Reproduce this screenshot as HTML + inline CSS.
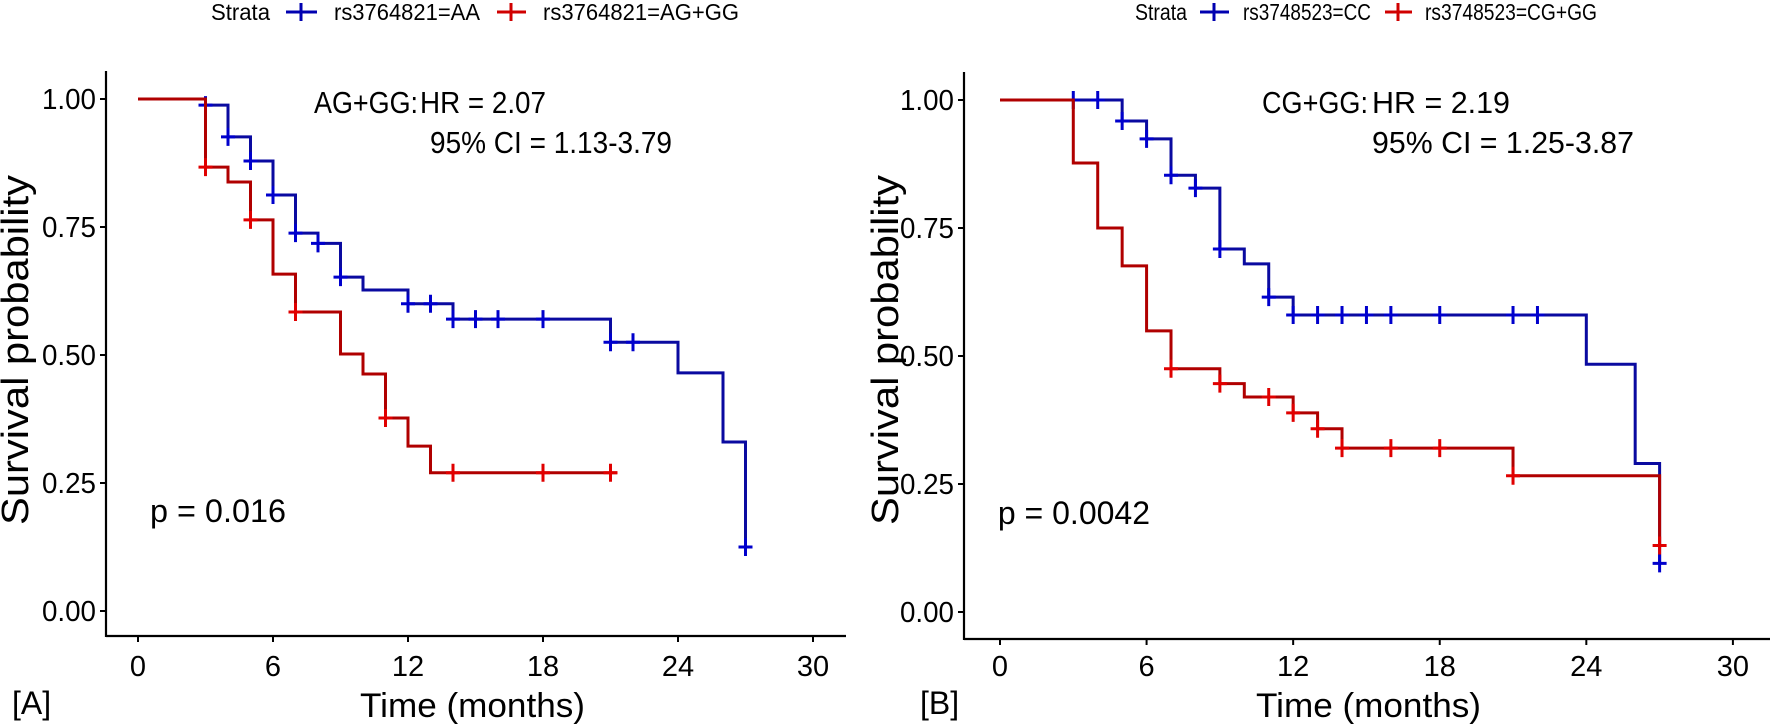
<!DOCTYPE html>
<html><head><meta charset="utf-8"><style>
html,body{margin:0;padding:0;background:#fff;}
svg{display:block;font-family:"Liberation Sans",Arial,sans-serif;}
</style></head><body>
<svg id="s" width="1770" height="726" viewBox="0 0 1770 726" xmlns="http://www.w3.org/2000/svg">
<rect width="1770" height="726" fill="#fff"/>
<g font-size="23" fill="#000">
<text x="211" y="20" textLength="59" lengthAdjust="spacingAndGlyphs">Strata</text>
<line x1="286" y1="12" x2="317" y2="12" stroke="#0000b0" stroke-width="3"/><line x1="301" y1="3" x2="301" y2="21" stroke="#0000b0" stroke-width="3"/>
<text x="334" y="20" textLength="146" lengthAdjust="spacingAndGlyphs">rs3764821=AA</text>
<line x1="497" y1="12" x2="526" y2="12" stroke="#d00000" stroke-width="3"/><line x1="511" y1="3" x2="511" y2="21" stroke="#d00000" stroke-width="3"/>
<text x="543" y="20" textLength="196" lengthAdjust="spacingAndGlyphs">rs3764821=AG+GG</text>

<text x="1135" y="20" textLength="52" lengthAdjust="spacingAndGlyphs">Strata</text>
<line x1="1200" y1="12" x2="1229" y2="12" stroke="#0000b0" stroke-width="3"/><line x1="1214" y1="3" x2="1214" y2="21" stroke="#0000b0" stroke-width="3"/>
<text x="1243" y="20" textLength="128" lengthAdjust="spacingAndGlyphs">rs3748523=CC</text>
<line x1="1385" y1="12" x2="1412" y2="12" stroke="#d00000" stroke-width="3"/><line x1="1398" y1="3" x2="1398" y2="21" stroke="#d00000" stroke-width="3"/>
<text x="1425" y="20" textLength="172" lengthAdjust="spacingAndGlyphs">rs3748523=CG+GG</text>
</g>
<g id="g"></g>
<g font-size="31" fill="#000">
<text x="314" y="113" textLength="104" lengthAdjust="spacingAndGlyphs">AG+GG:</text>
<text x="420" y="113" textLength="126" lengthAdjust="spacingAndGlyphs">HR = 2.07</text>
<text x="430" y="153" textLength="242" lengthAdjust="spacingAndGlyphs">95% CI = 1.13-3.79</text>
<text x="1262" y="113" textLength="106" lengthAdjust="spacingAndGlyphs">CG+GG:</text>
<text x="1372" y="113" textLength="138" lengthAdjust="spacingAndGlyphs">HR = 2.19</text>
<text x="1372" y="153" textLength="262" lengthAdjust="spacingAndGlyphs">95% CI = 1.25-3.87</text>
</g>
<g font-size="32" fill="#000">
<text x="150" y="522" textLength="136" lengthAdjust="spacingAndGlyphs">p = 0.016</text>
<text x="1150" y="524" text-anchor="end">p = 0.0042</text>
</g>
<g font-size="34" fill="#000">
<text x="360" y="717" textLength="225" lengthAdjust="spacingAndGlyphs">Time (months)</text>
<text x="1256" y="717" textLength="225" lengthAdjust="spacingAndGlyphs">Time (months)</text>
<text x="12" y="714" font-size="32">[A]</text>
<text x="920" y="714" font-size="32">[B]</text>
<text transform="translate(28,350) rotate(-90)" text-anchor="middle" font-size="38" textLength="350" lengthAdjust="spacingAndGlyphs">Survival probability</text>
<text transform="translate(898,350) rotate(-90)" text-anchor="middle" font-size="38" textLength="350" lengthAdjust="spacingAndGlyphs">Survival probability</text>
</g>
</svg>
<script>
(function(){
var g=document.getElementById('g'),NS='http://www.w3.org/2000/svg';
function el(t,a,txt){var e=document.createElementNS(NS,t);for(var k in a)e.setAttribute(k,a[k]);if(txt!=null)e.textContent=txt;g.appendChild(e);return e;}
function panel(P){
 var X=function(m){return P.x0+P.k*m},Y=function(s){return P.y0-512*s};
 el('line',{x1:P.ax,y1:P.top,x2:P.ax,y2:P.base+1,stroke:'#000','stroke-width':2.2});
 el('line',{x1:P.ax,y1:P.base,x2:P.xend,y2:P.base,stroke:'#000','stroke-width':2.2});
 [0,0.25,0.5,0.75,1].forEach(function(s){
  el('line',{x1:P.ax-6,y1:Y(s),x2:P.ax,y2:Y(s),stroke:'#000','stroke-width':2});
  el('text',{x:P.ax-10,y:Y(s)+10,'text-anchor':'end','font-size':29,textLength:54,lengthAdjust:'spacingAndGlyphs'},s.toFixed(2));
 });
 [0,6,12,18,24,30].forEach(function(m){
  el('line',{x1:X(m),y1:P.base,x2:X(m),y2:P.base+6,stroke:'#000','stroke-width':2});
  el('text',{x:X(m),y:676,'text-anchor':'middle','font-size':29},m);
 });
 P.series.forEach(function(S){
  var d='M'+X(0)+','+Y(1);
  S.steps.forEach(function(st){d+=' H'+X(st[0])+' V'+Y(st[1]);});
  d+=' H'+X(S.end);
  el('path',{d:d,fill:'none',stroke:S.lc,'stroke-width':3});
  S.cens.forEach(function(c){
   var x=X(c[0]),y=Y(c[1]);
   el('path',{d:'M'+(x-7)+','+y+' H'+(x+7)+' M'+x+','+(y-9)+' V'+(y+9),stroke:S.cc,'stroke-width':3});
  });
 });
}
panel({x0:138,k:22.5,y0:611,ax:106,top:71,base:636,xend:846,series:[
 {lc:'#0a0aa0',cc:'#0000cc',end:27,
  steps:[[3,0.988],[4,0.926],[5,0.879],[6,0.8125],[7,0.738],[8,0.718],[9,0.652],[10,0.627],[12,0.60],[14,0.57],[21,0.525],[24,0.465],[26,0.33],[27,0.125]],
  cens:[[3,0.988],[4,0.926],[5,0.879],[6,0.8125],[7,0.738],[8,0.718],[9,0.652],[12,0.60],[13,0.60],[14,0.57],[15,0.57],[16,0.57],[18,0.57],[21,0.525],[22,0.525],[27,0.125]]},
 {lc:'#b00000',cc:'#e00000',end:21.3,
  steps:[[3,0.867],[4,0.838],[5,0.764],[6,0.658],[7,0.584],[9,0.502],[10,0.463],[11,0.377],[12,0.322],[13,0.27]],
  cens:[[3,0.867],[5,0.764],[7,0.584],[11,0.377],[14,0.27],[18,0.27],[21,0.27]]}
]});
panel({x0:1000,k:24.43,y0:612,ax:964,top:72,base:639,xend:1770,series:[
 {lc:'#0a0aa0',cc:'#0000cc',end:27,
  steps:[[5,0.959],[6,0.924],[7,0.853],[8,0.828],[9,0.709],[10,0.68],[11,0.615],[12,0.58],[24,0.484],[26,0.29],[27,0.095]],
  cens:[[3,1],[4,1],[5,0.959],[6,0.924],[7,0.853],[8,0.828],[9,0.709],[11,0.615],[12,0.58],[13,0.58],[14,0.58],[15,0.58],[16,0.58],[18,0.58],[21,0.58],[22,0.58],[27,0.095]]},
 {lc:'#b00000',cc:'#e00000',end:27,
  steps:[[3,0.877],[4,0.75],[5,0.676],[6,0.549],[7,0.475],[9,0.446],[10,0.42],[12,0.389],[13,0.358],[14,0.32],[21,0.266],[27,0.13]],
  cens:[[7,0.475],[9,0.446],[11,0.42],[12,0.389],[13,0.358],[14,0.32],[16,0.32],[18,0.32],[21,0.266],[27,0.13]]}
]});
})();
</script>
</body></html>
